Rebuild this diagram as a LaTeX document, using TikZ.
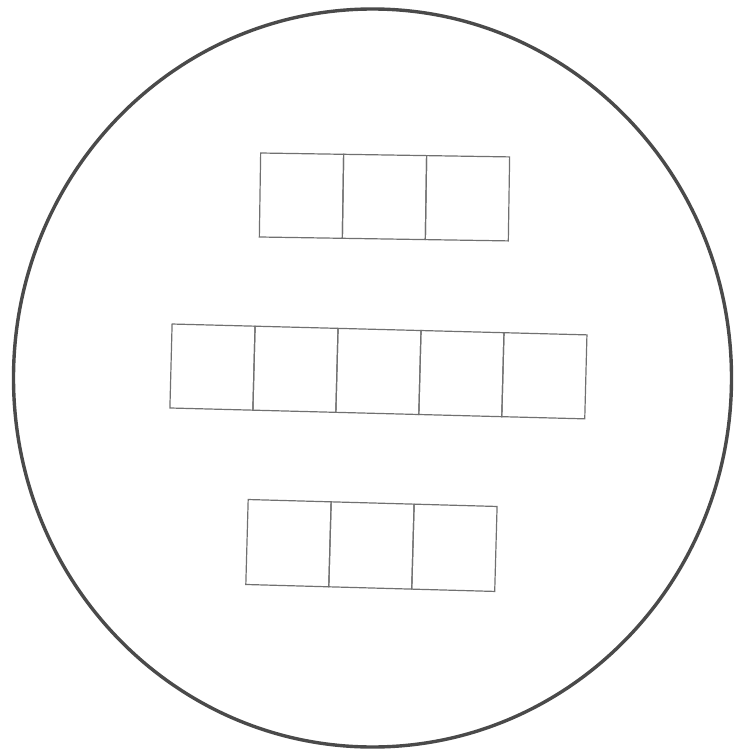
\documentclass[tikz,border=0pt]{standalone}
\usetikzlibrary{shapes.geometric}
\definecolor{rimcol}{HTML}{4A4A4A}
\definecolor{boxcol}{HTML}{707070}
\tikzset{
  cell/.style={draw=boxcol, line width=1.2pt, minimum width=83pt, minimum height=84pt, inner sep=0pt, outer sep=0pt, anchor=west},
  rim/.style={draw=rimcol, line width=3.4pt, ellipse, minimum width=718pt, minimum height=738pt, inner sep=0pt}
}
\begin{document}
\begin{tikzpicture}[x=1pt,y=-1pt]
\useasboundingbox (0,0) rectangle (738,754);
\node[rim] (circle) at (372.5,378) {};
% top row
\node[cell, rotate=-0.9] (t1) at (260,195) {};
\node[cell, rotate=-0.9] (t2) at (t1.east) {};
\node[cell, rotate=-0.9] (t3) at (t2.east) {};
% middle row
\node[cell, rotate=-1.5] (m1) at (171,366) {};
\node[cell, rotate=-1.5] (m2) at (m1.east) {};
\node[cell, rotate=-1.5] (m3) at (m2.east) {};
\node[cell, rotate=-1.5] (m4) at (m3.east) {};
\node[cell, rotate=-1.5] (m5) at (m4.east) {};
% bottom row
\node[cell, rotate=-1.6, minimum height=85pt] (b1) at (247,542) {};
\node[cell, rotate=-1.6, minimum height=85pt] (b2) at (b1.east) {};
\node[cell, rotate=-1.6, minimum height=85pt] (b3) at (b2.east) {};
\end{tikzpicture}
\end{document}
